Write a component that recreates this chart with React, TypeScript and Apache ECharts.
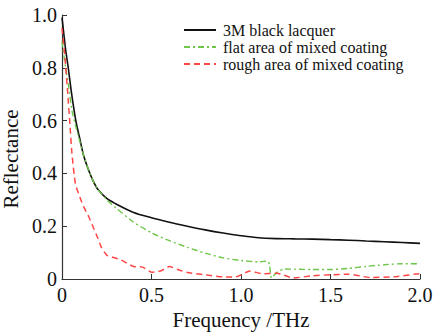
import React, { useEffect, useRef } from "react";
import * as echarts from "echarts";

const blackX = [0, 0.01, 0.02, 0.035, 0.05, 0.065, 0.08, 0.1, 0.12, 0.15, 0.175, 0.2, 0.25, 0.3, 0.4, 0.5, 0.6, 0.7, 0.8, 0.9, 1.0, 1.1, 1.2, 1.3, 1.4, 1.5, 1.6, 1.7, 1.8, 1.9, 2.0];
const blackY = [0.99, 0.93, 0.87, 0.8, 0.72, 0.65, 0.59, 0.53, 0.47, 0.41, 0.37, 0.34, 0.305, 0.285, 0.252, 0.232, 0.215, 0.2, 0.186, 0.174, 0.164, 0.156, 0.153, 0.152, 0.151, 0.149, 0.147, 0.144, 0.141, 0.138, 0.135];

const greenX = [0, 0.02, 0.035, 0.055, 0.08, 0.1, 0.12, 0.15, 0.175, 0.2, 0.25, 0.3, 0.4, 0.5, 0.6, 0.7, 0.8, 0.9, 1.0, 1.1, 1.15, 1.16, 1.17, 1.2, 1.24, 1.3, 1.4, 1.5, 1.6, 1.7, 1.8, 1.9, 2.0];
const greenY = [0.9, 0.8, 0.74, 0.64, 0.57, 0.52, 0.47, 0.41, 0.37, 0.34, 0.3, 0.27, 0.215, 0.175, 0.145, 0.12, 0.098, 0.08, 0.07, 0.065, 0.068, 0.05, 0.004, 0.025, 0.038, 0.037, 0.036, 0.036, 0.04, 0.048, 0.054, 0.058, 0.058];

const redX = [0, 0.015, 0.03, 0.045, 0.055, 0.075, 0.1, 0.12, 0.15, 0.175, 0.2, 0.22, 0.25, 0.27, 0.32, 0.35, 0.4, 0.45, 0.5, 0.55, 0.6, 0.65, 0.7, 0.8, 0.9, 0.97, 1.05, 1.12, 1.2, 1.29, 1.4, 1.5, 1.6, 1.72, 1.85, 1.98, 2.0];
const redY = [0.95, 0.85, 0.72, 0.58, 0.48, 0.36, 0.31, 0.275, 0.235, 0.195, 0.155, 0.12, 0.09, 0.085, 0.075, 0.065, 0.047, 0.045, 0.026, 0.03, 0.047, 0.035, 0.025, 0.016, 0.008, 0.008, 0.03, 0.02, 0.022, 0.004, 0.012, 0.016, 0.018, 0.006, 0.008, 0.019, 0.02];

const seriesNames = ["3M black lacquer", "flat area of mixed coating", "rough area of mixed coating"];
const xTicks = [0, 0.5, 1.0, 1.5, 2.0];
const yTicks = [0, 0.2, 0.4, 0.6, 0.8, 1.0];

const FONT = "'Liberation Serif', 'Times New Roman', 'DejaVu Serif', serif";

const zip = (xs: number[], ys: number[]) => xs.map((x, i) => [x, ys[i]]);

function buildOption() {
  const axisLine = { show: true, lineStyle: { color: "#333", width: 1.2 } };
  return {
    animation: false,
    backgroundColor: "#fff",
    textStyle: { fontFamily: FONT },
    grid: { left: 62, right: 14, top: 15, bottom: 53, containLabel: false, outerBoundsMode: "none" },
    legend: {
      left: 178,
      top: 17,
      orient: "vertical",
      itemWidth: 32,
      itemHeight: 10,
      itemGap: 1,
      itemStyle: { color: "transparent", borderWidth: 0 },
      textStyle: { fontFamily: FONT, fontSize: 16, lineHeight: 16, color: "#111", padding: [0, 0, 0, 2] },
      data: seriesNames,
    },
    xAxis: {
      type: "value",
      min: 0,
      max: 2,
      interval: 0.5,
      name: "Frequency /THz",
      nameLocation: "middle",
      nameGap: 25,
      nameTextStyle: { fontFamily: FONT, fontSize: 21, color: "#111" },
      axisLine,
      axisTick: { show: true, inside: true, length: 5, lineStyle: { color: "#333" } },
      splitLine: { show: false },
      axisLabel: {
        fontFamily: FONT,
        fontSize: 20,
        color: "#111",
        margin: 6,
        formatter: (v: number) => (xTicks.includes(v) ? (v === 0 ? "0" : v.toFixed(1)) : ""),
      },
    },
    yAxis: {
      type: "value",
      min: 0,
      max: 1,
      interval: 0.2,
      name: "Reflectance",
      nameLocation: "middle",
      nameGap: 29,
      nameTextStyle: { fontFamily: FONT, fontSize: 21, color: "#111", padding: [0, 24, 0, 0] },
      axisLine,
      axisTick: { show: true, inside: true, length: 5, lineStyle: { color: "#333" } },
      splitLine: { show: false },
      axisLabel: {
        fontFamily: FONT,
        fontSize: 20,
        color: "#111",
        margin: 5,
        formatter: (v: number) => {
          const t = yTicks.find((y) => Math.abs(y - v) < 1e-6);
          return t === undefined ? "" : t === 0 ? "0" : t.toFixed(1);
        },
      },
    },
    series: [
      {
        name: seriesNames[0],
        type: "line",
        data: zip(blackX, blackY),
        smooth: 0.3,
        symbol: "none",
        lineStyle: { color: "#111", width: 1.6 },
        itemStyle: { color: "#111" },
      },
      {
        name: seriesNames[1],
        type: "line",
        data: zip(greenX, greenY),
        smooth: 0.2,
        symbol: "none",
        lineStyle: { color: "#6cc648", width: 1.4, type: [6, 3, 2, 3] },
        itemStyle: { color: "#6cc648" },
      },
      {
        name: seriesNames[2],
        type: "line",
        data: zip(redX, redY),
        smooth: 0.2,
        symbol: "none",
        lineStyle: { color: "#ff4646", width: 1.5, type: [6, 4] },
        itemStyle: { color: "#ff4646" },
      },
    ],
  };
}

export default function App() {
  const ref = useRef<HTMLDivElement>(null);
  useEffect(() => {
    if (!ref.current) return;
    const chart = echarts.init(ref.current, undefined, { renderer: "svg" });
    chart.setOption(buildOption());
    let alive = true;
    const fonts = (document as any).fonts;
    if (fonts && fonts.load) {
      Promise.all([fonts.load("16px 'Liberation Serif'")])
        .then(() => fonts.ready)
        .then(() => {
          if (alive && !chart.isDisposed()) chart.setOption(buildOption(), true);
        })
        .catch(() => {});
    }
    return () => {
      alive = false;
      chart.dispose();
    };
  }, []);
  return (
    <div
      ref={ref}
      style={{ width: 434, height: 332, position: "absolute", left: 0, top: 0, fontFamily: FONT }}
    />
  );
}
